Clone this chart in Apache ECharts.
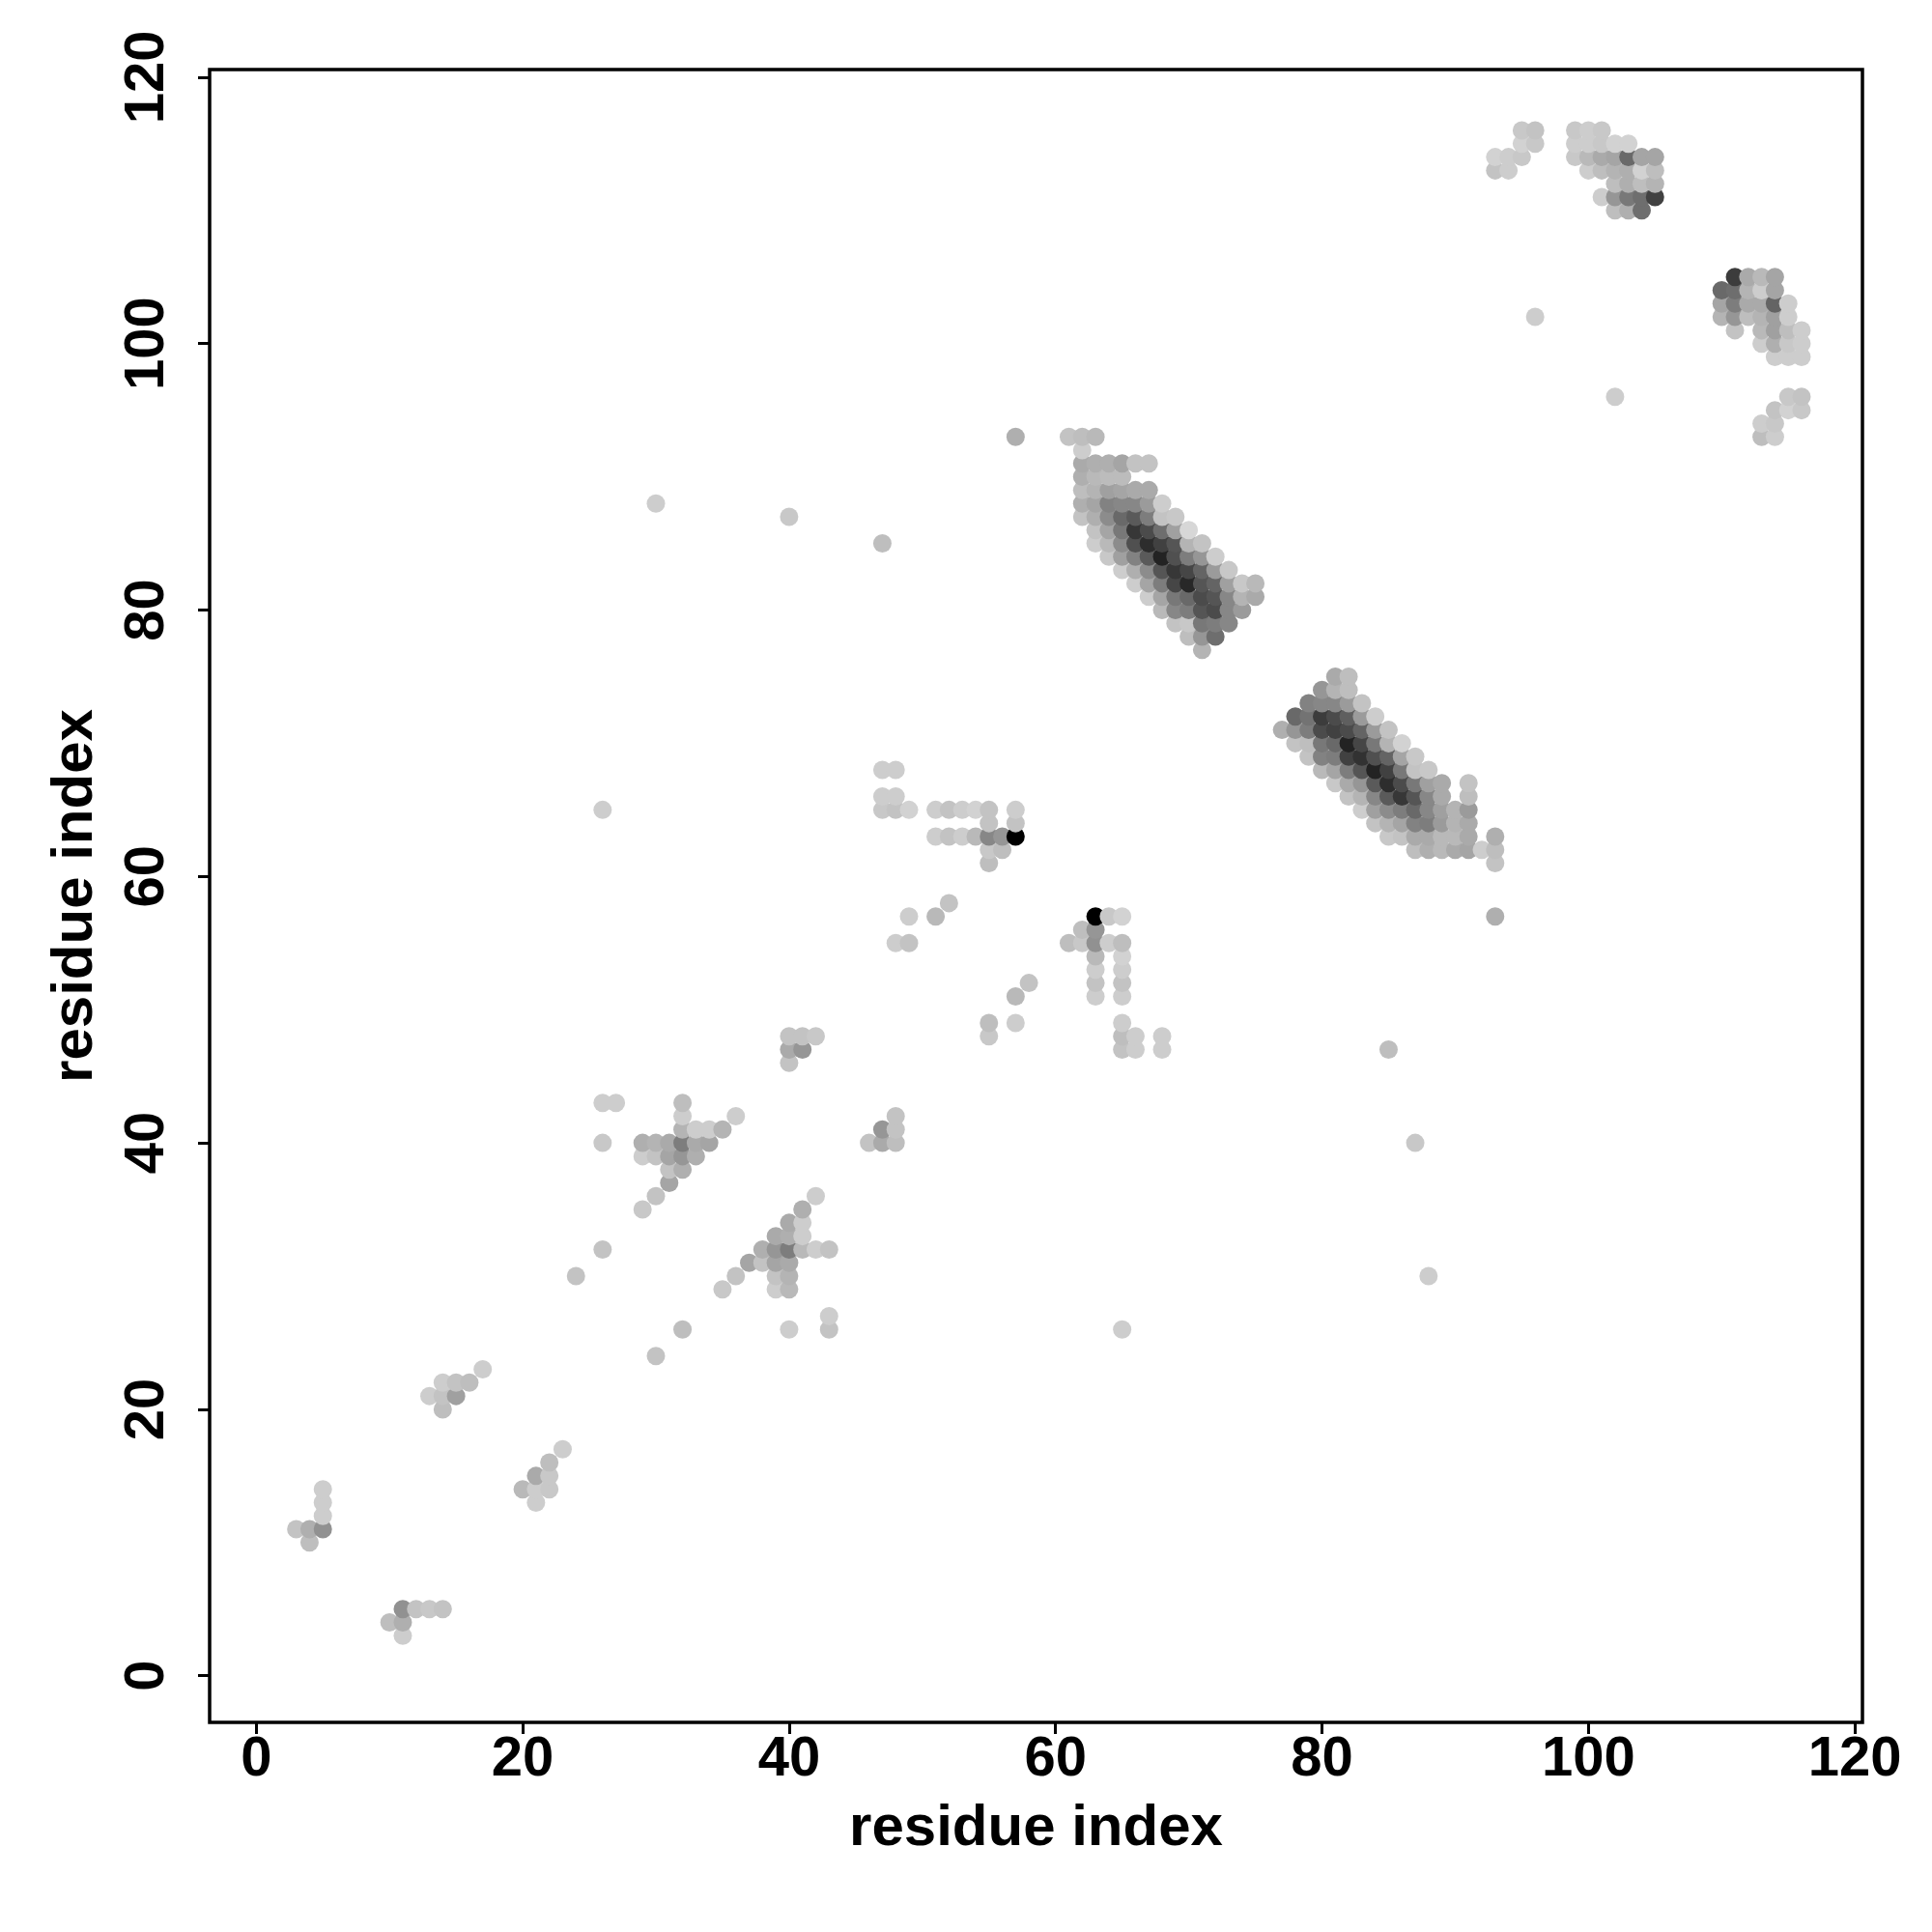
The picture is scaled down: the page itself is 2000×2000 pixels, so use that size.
<!DOCTYPE html>
<html>
<head>
<meta charset="utf-8">
<style>html,body{margin:0;padding:0;background:#fff}#c{width:2000px;height:2000px}</style>
<script src="https://cdn.jsdelivr.net/npm/echarts@6/dist/echarts.min.js"></script>
</head>
<body>
<div id="c"></div>
<script>
// Each cell is [residue i, residue j, grey level 0..255]
const tickLabels = [0, 20, 40, 60, 80, 100, 120];
const axisTitle = 'residue index';

const helixUpper = [
[61,93,195],[62,93,190],[63,93,185],[62,92,205],
[62,91,170],[63,91,175],[64,91,175],[65,91,165],[66,91,195],[67,91,195],
[62,90,175],[63,90,185],[64,90,188],[65,90,188],
[62,89,190],[63,89,180],[64,89,160],[65,89,165],[66,89,170],[67,89,170],
[62,88,175],[63,88,165],[64,88,130],[65,88,135],[66,88,135],[67,88,155],[68,88,205],
[62,87,195],[63,87,175],[64,87,140],[65,87,105],[66,87,90],[67,87,125],[68,87,195],[69,87,200],
[63,86,195],[64,86,165],[65,86,120],[66,86,55],[67,86,75],[68,86,110],[69,86,160],[70,86,215],
[63,85,205],[64,85,185],[65,85,140],[66,85,80],[67,85,45],[68,85,65],[69,85,85],[70,85,180],[71,85,195],
[64,84,200],[65,84,160],[66,84,130],[67,84,90],[68,84,35],[69,84,80],[70,84,125],[71,84,150],[72,84,205],
[65,83,205],[66,83,175],[67,83,140],[68,83,85],[69,83,55],[70,83,70],[71,83,100],[72,83,155],[73,83,200],
[66,82,205],[67,82,165],[68,82,125],[69,82,70],[70,82,40],[71,82,85],[72,82,100],[73,82,160],[74,82,200],[75,82,185],
[67,81,205],[68,81,165],[69,81,120],[70,81,105],[71,81,75],[72,81,85],[73,81,135],[74,81,180],[75,81,170],
[68,80,185],[69,80,135],[70,80,125],[71,80,85],[72,80,75],[73,80,135],[74,80,155],
[69,79,195],[70,79,200],[71,79,120],[72,79,125],[73,79,135],
[70,78,190],[71,78,150],[72,78,110],[71,77,180]
];

const helixMiddle = [
[81,75,170],[82,75,190],[80,74,150],[81,74,180],[82,74,190],
[79,73,130],[80,73,135],[81,73,135],[82,73,155],[83,73,195],
[78,72,105],[79,72,115],[80,72,60],[81,72,75],[82,72,95],[83,72,155],[84,72,205],
[77,71,175],[78,71,150],[79,71,125],[80,71,75],[81,71,65],[82,71,75],[83,71,100],[84,71,155],[85,71,195],
[78,70,195],[79,70,190],[80,70,120],[81,70,105],[82,70,35],[83,70,70],[84,70,120],[85,70,180],[86,70,210],
[79,69,195],[80,69,130],[81,69,125],[82,69,65],[83,69,50],[84,69,80],[85,69,100],[86,69,165],[87,69,200],
[80,68,185],[81,68,165],[82,68,125],[83,68,85],[84,68,35],[85,68,65],[86,68,120],[87,68,195],[88,68,200],
[81,67,200],[82,67,170],[83,67,150],[84,67,90],[85,67,45],[86,67,75],[87,67,120],[88,67,160],[89,67,170],[91,67,195],
[82,66,195],[83,66,180],[84,66,135],[85,66,90],[86,66,55],[87,66,85],[88,66,135],[89,66,170],[91,66,190],
[83,65,205],[84,65,160],[85,65,140],[86,65,125],[87,65,105],[88,65,135],[89,65,160],[90,65,180],[91,65,155],
[84,64,195],[85,64,180],[86,64,165],[87,64,130],[88,64,125],[89,64,155],[90,64,180],[91,64,170],
[85,63,200],[86,63,195],[87,63,170],[88,63,170],[89,63,185],[90,63,185],[91,63,170],[93,63,175],
[87,62,190],[88,62,175],[89,62,185],[90,62,170],[91,62,165],[92,62,205],[93,62,190],[93,61,195]
];

const topCluster = [
[95,116,200],[96,116,195],[99,116,200],[100,116,205],[101,116,200],
[95,115,210],[96,115,200],[99,115,205],[100,115,205],[101,115,200],[102,115,210],[103,115,210],
[93,114,210],[94,114,205],[95,114,200],[99,114,200],[100,114,185],[101,114,170],[102,114,165],[103,114,105],[104,114,165],[105,114,165],
[93,113,195],[94,113,205],[100,113,205],[101,113,190],[102,113,180],[103,113,175],[104,113,210],[105,113,190],
[102,112,190],[103,112,175],[104,112,190],[105,112,180],
[101,111,205],[102,111,150],[103,111,120],[104,111,110],[105,111,65],
[102,110,190],[103,110,175],[104,110,110]
];

const rightCluster = [
[111,105,60],[112,105,170],[113,105,185],[114,105,165],
[110,104,105],[111,104,110],[112,104,180],[113,104,205],[114,104,165],
[110,103,165],[111,103,125],[112,103,170],[113,103,170],[114,103,100],[115,103,205],
[110,102,180],[111,102,150],[112,102,190],[113,102,180],[114,102,160],[115,102,205],
[111,101,195],[113,101,185],[114,101,160],[115,101,190],[116,101,205],
[113,100,205],[114,100,175],[115,100,200],[116,100,205],
[114,99,205],[115,99,205],[116,99,205],
[115,96,200],[116,96,195],[114,95,195],[115,95,210],[116,95,200],
[113,94,205],[114,94,200],[113,93,190],[114,93,205]
];

const midCluster = [
[47,68,205],[48,68,205],[47,66,205],[48,66,205],
[47,65,200],[48,65,195],[49,65,210],[51,65,205],[52,65,195],[53,65,205],[54,65,210],[55,65,195],[57,65,205],
[55,64,195],[57,64,195],
[51,63,205],[52,63,195],[53,63,205],[54,63,185],[55,63,135],[56,63,150],[57,63,0],
[55,62,200],[56,62,190],[55,61,190],
[52,58,195],[49,57,205],[51,57,185],[48,55,205],[49,55,195],
[58,52,195],[57,51,185],[55,49,190],[57,49,205],[55,48,200]
];

const mirrorCluster = [
[63,57,0],[64,57,200],[65,57,210],[62,56,190],[63,56,150],
[61,55,190],[62,55,200],[63,55,145],[64,55,205],[65,55,190],
[63,54,185],[65,54,210],[63,53,205],[65,53,205],[63,52,195],[65,52,195],[63,51,205],[65,51,205],
[65,49,205],[65,48,190],[66,48,205],[68,48,205],[65,47,195],[66,47,205],[68,47,205]
];

const lowerCluster = [
[40,48,195],[41,48,195],[42,48,200],[40,47,170],[41,47,150],[40,46,195],
[26,43,205],[27,43,205],[32,43,190],[32,42,205],[36,42,205],[48,42,195],
[32,41,180],[33,41,205],[34,41,205],[35,41,180],[47,41,150],[48,41,195],
[26,40,200],[29,40,175],[30,40,180],[31,40,170],[32,40,125],[33,40,170],[34,40,165],[46,40,195],[47,40,170],[48,40,190],
[29,39,205],[30,39,195],[31,39,165],[32,39,150],[33,39,175],
[31,38,195],[32,38,175],[31,37,165],[30,36,195],[29,35,200],
[42,36,205],[41,35,175],[40,34,170],[41,34,205],[39,33,170],[40,33,175],[41,33,205],
[26,32,195],[38,32,175],[39,32,150],[40,32,125],[41,32,185],[42,32,205],[43,32,195],
[37,31,165],[38,31,195],[39,31,165],[40,31,170],
[24,30,195],[36,30,195],[39,30,195],[40,30,180],[35,29,200],[39,29,205],[40,29,185],
[43,27,205],[32,26,190],[40,26,205],[43,26,195],[30,24,195]
];

const cornerCluster = [
[17,23,205],[14,22,205],[15,22,195],[16,22,190],[13,21,205],[14,21,195],[15,21,160],[14,20,190],
[23,17,205],[22,16,190],[21,15,170],[22,15,200],[20,14,185],[21,14,205],[22,14,200],[21,13,205],
[5,14,205],[5,13,205],[5,12,205],[3,11,195],[4,11,175],[5,11,145],[4,10,190],
[11,5,145],[12,5,195],[13,5,200],[14,5,195],[10,4,190],[11,4,175],[11,3,205]
];

const isolated = [
[96,102,205],[102,96,205],[57,93,175],[30,88,205],[40,87,200],[47,85,190],
[26,65,205],[93,57,175],[85,47,190],[87,40,200],[88,30,205],[65,26,205]
];

const cells = [].concat(helixUpper, helixMiddle, topCluster, rightCluster, midCluster,
  mirrorCluster, lowerCluster, cornerCluster, isolated)
  .sort((a, b) => a[0] - b[0] || a[1] - b[1]);

const chart = echarts.init(document.getElementById('c'), null, {renderer: 'canvas'});
const font = '"Liberation Sans", Arial, sans-serif';
function axis(extra) {
  return Object.assign({
    type: 'value', min: -3.5, max: 120.57, splitLine: {show: false},
    name: axisTitle, nameLocation: 'middle',
    nameTextStyle: {fontFamily: font, fontWeight: 'bold', fontSize: 60, color: '#000'},
    axisLine: {show: false, onZero: false},
    axisTick: {show: true, length: 12, customValues: tickLabels, lineStyle: {color: '#000', width: 3}},
  }, extra);
}
chart.setOption({
  animation: false,
  backgroundColor: '#fff',
  grid: {left: 217, top: 72, width: 1711, height: 1711, show: true, borderColor: '#000', borderWidth: 3.5, backgroundColor: 'transparent'},
  xAxis: axis({
    nameGap: 80,
    axisLabel: {customValues: tickLabels, fontFamily: font, fontWeight: 'bold', fontSize: 58, color: '#000', margin: 10, hideOverlap: false, showMinLabel: true, showMaxLabel: true}
  }),
  yAxis: axis({
    nameGap: 109, nameRotate: 90,
    axisLabel: {customValues: tickLabels, rotate: 90, fontFamily: font, fontWeight: 'bold', fontSize: 58, color: '#000', margin: 35, hideOverlap: false, showMinLabel: true, showMaxLabel: true}
  }),
  visualMap: {show: false, type: 'continuous', dimension: 2, min: 0, max: 255, inRange: {color: ['#000000', '#ffffff']}},
  series: [{type: 'scatter', data: cells, symbol: 'circle', symbolSize: 19, silent: true, clip: false, itemStyle: {opacity: 1}}]
});
</script>
</body>
</html>
